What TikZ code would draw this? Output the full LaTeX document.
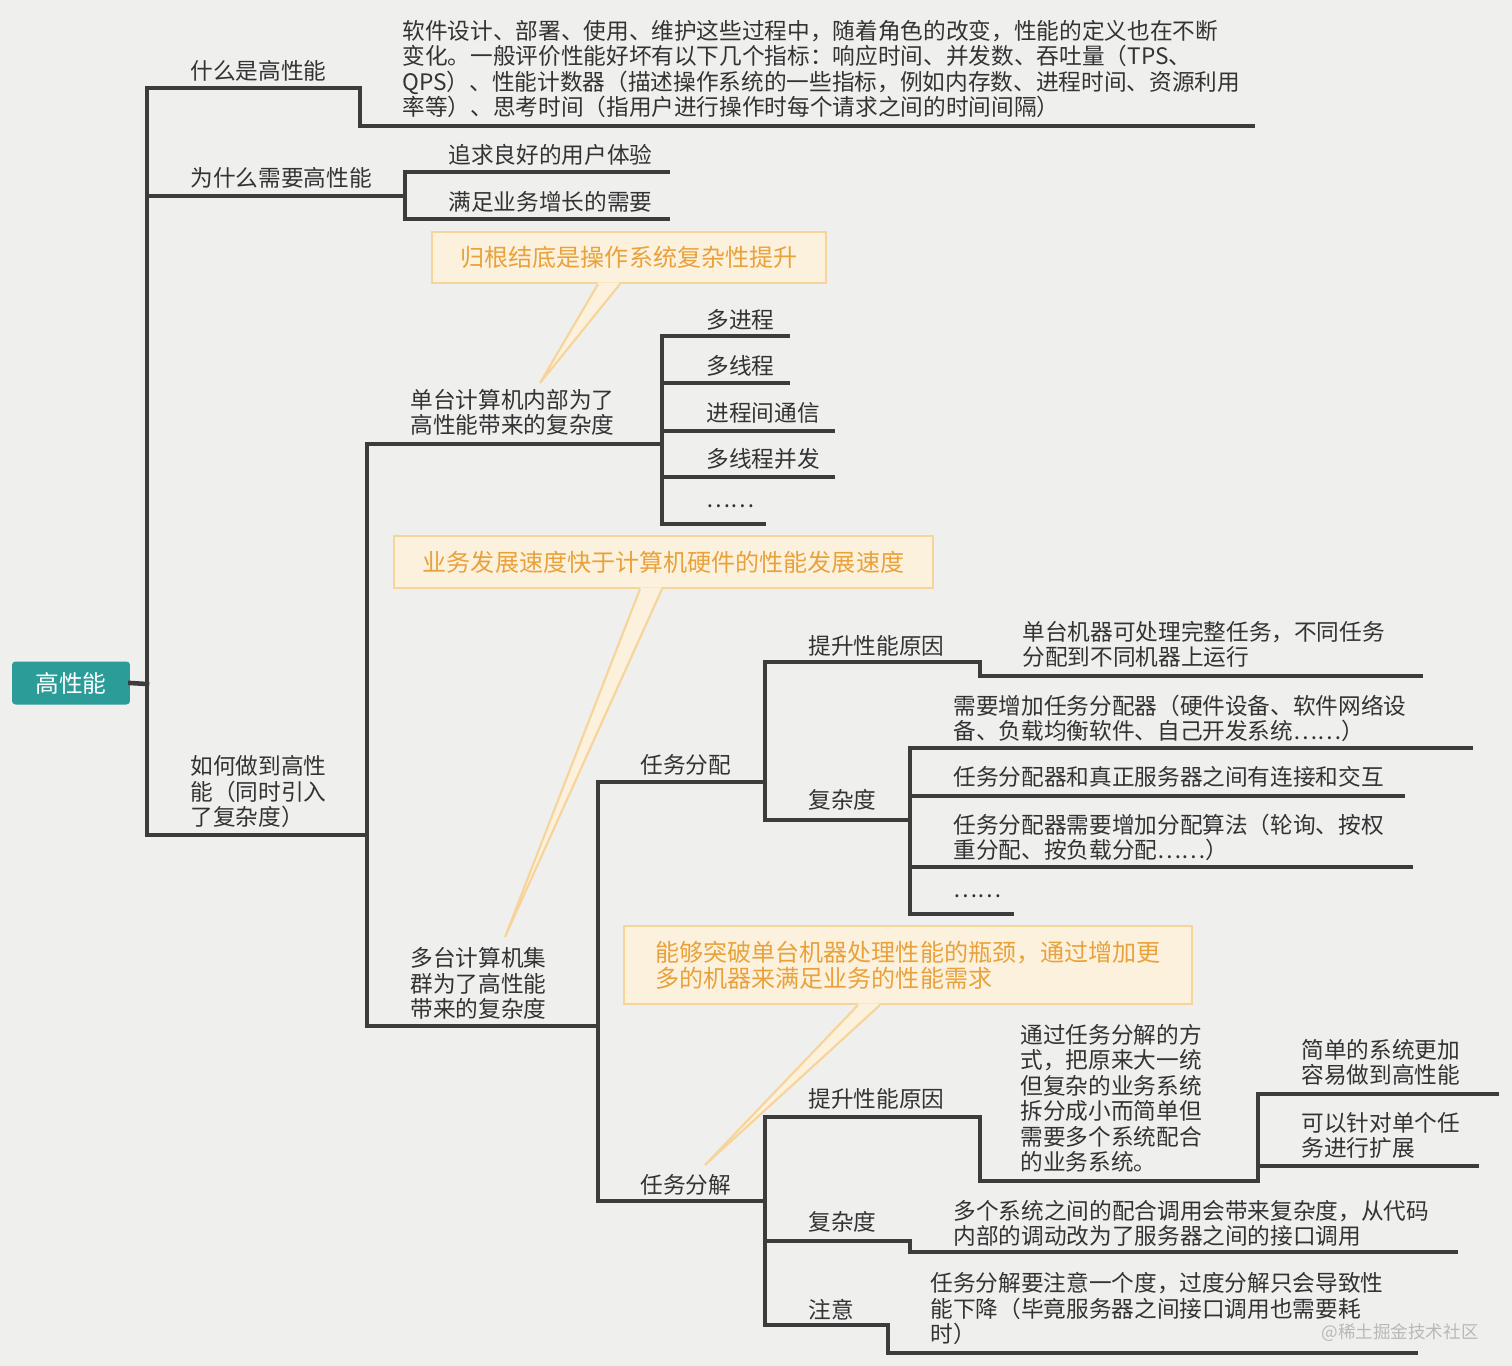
\documentclass[tikz,border=0pt]{standalone}
\usepackage{fontspec}
\setmainfont{Noto Sans CJK SC}
\usepackage{tikz}

\definecolor{paper}{HTML}{EFEFEE}
\definecolor{ink}{HTML}{333333}
\definecolor{branchgray}{HTML}{3C3C3C}
\definecolor{rootteal}{HTML}{2B9C98}
\definecolor{notefill}{HTML}{FCF1DC}
\definecolor{noteline}{HTML}{F6D49A}
\definecolor{notetext}{HTML}{E9A23B}

\begin{document}
\begin{tikzpicture}[x=0.02cm, y=-0.02cm,
    branch/.style={draw=branchgray, line width=2.6pt, line cap=rect},
    topic/.style={anchor=south west, inner sep=0pt, align=left, text=ink,
        font=\fontsize{12.9pt}{14.5pt}\selectfont},
    rootbox/.style={fill=rootteal, rounded corners=2pt, text=white,
        minimum width=2.36cm, minimum height=0.86cm,
        font=\fontsize{13.5pt}{15pt}\selectfont},
    callout/.style={draw=noteline, fill=notefill, line width=1.2pt, text=notetext,
        inner sep=0pt, align=left, font=\fontsize{13.7pt}{14.7pt}\selectfont},
    watermark/.style={inner sep=0pt, text=gray!55, font=\fontsize{10pt}{12pt}\selectfont}]

    % paper
    \fill[paper] (0,0) rectangle (1512,1366);
    \useasboundingbox (0,0) rectangle (1512,1366);

    % callouts with their tails
    \node[callout, minimum width=7.88cm, minimum height=1.02cm] (c1) at (629,257.5) {归根结底是操作系统复杂性提升};
    \node[callout, minimum width=10.78cm, minimum height=1.04cm] (c2) at (663.5,562) {业务发展速度快于计算机硬件的性能发展速度};
    \node[callout, minimum width=11.36cm, minimum height=1.56cm] (c3) at (908,965) {能够突破单台机器处理性能的瓶颈，通过增加更\\多的机器来满足业务的性能需求};
    \coordinate (tip1) at (540,383);
    \coordinate (tip2) at (505,937);
    \coordinate (tip3) at (705,1165);
    \fill[notefill] ([xshift=-0.62cm,yshift=1pt]c1.south) -- (tip1) -- ([xshift=-0.18cm,yshift=1pt]c1.south) -- cycle;
    \draw[noteline, line width=1.2pt] ([xshift=-0.62cm]c1.south) -- (tip1) -- ([xshift=-0.18cm]c1.south);
    \fill[notefill] ([xshift=-0.47cm,yshift=1pt]c2.south) -- (tip2) -- ([xshift=-0.03cm,yshift=1pt]c2.south) -- cycle;
    \draw[noteline, line width=1.2pt] ([xshift=-0.47cm]c2.south) -- (tip2) -- ([xshift=-0.03cm]c2.south);
    \fill[notefill] ([xshift=-1cm,yshift=1pt]c3.south) -- (tip3) -- ([xshift=-0.56cm,yshift=1pt]c3.south) -- cycle;
    \draw[noteline, line width=1.2pt] ([xshift=-1cm]c3.south) -- (tip3) -- ([xshift=-0.56cm]c3.south);

    % topics
    \node[rootbox] (root) at (71,683) {高性能};
    \node[topic] (what) at (190,82) {什么是高性能};
    \node[topic] (whatdef) at (402,118) {软件设计、部署、使用、维护这些过程中，随着角色的改变，性能的定义也在不断\\变化。一般评价性能好坏有以下几个指标：响应时间、并发数、吞吐量（TPS、\\QPS）、性能计数器（描述操作系统的一些指标，例如内存数、进程时间、资源利用\\率等）、思考时间（指用户进行操作时每个请求之间的时间间隔）};
    \node[topic] (why) at (190,189) {为什么需要高性能};
    \node[topic] (ux) at (448,166) {追求良好的用户体验};
    \node[topic] (biz) at (448,213) {满足业务增长的需要};
    \node[topic] (how) at (190,828) {如何做到高性\\能（同时引入\\了复杂度）};
    \node[topic] (single) at (410,436) {单台计算机内部为了\\高性能带来的复杂度};
    \node[topic] (proc) at (706,331) {多进程};
    \node[topic] (thread) at (706,377) {多线程};
    \node[topic] (ipc) at (706,424) {进程间通信};
    \node[topic] (conc) at (706,470) {多线程并发};
    \node[topic] (etc1) at (706,508) {……};
    \node[topic] (cluster) at (410,1020) {多台计算机集\\群为了高性能\\带来的复杂度};
    \node[topic] (assign) at (640,776) {任务分配};
    \node[topic] (reason1) at (808,657) {提升性能原因};
    \node[topic] (reason1txt) at (1022,668) {单台机器可处理完整任务，不同任务\\分配到不同机器上运行};
    \node[topic] (cplx1) at (808,811) {复杂度};
    \node[topic] (alloc) at (953,742) {需要增加任务分配器（硬件设备、软件网络设\\备、负载均衡软件、自己开发系统……）};
    \node[topic] (link) at (953,788) {任务分配器和真正服务器之间有连接和交互};
    \node[topic] (algo) at (953,861) {任务分配器需要增加分配算法（轮询、按权\\重分配、按负载分配……）};
    \node[topic] (etc2) at (953,898) {……};
    \node[topic] (split) at (640,1196) {任务分解};
    \node[topic] (reason2) at (808,1110) {提升性能原因};
    \node[topic] (reason2txt) at (1020,1173) {通过任务分解的方\\式，把原来大一统\\但复杂的业务系统\\拆分成小而简单但\\需要多个系统配合\\的业务系统。};
    \node[topic] (simple) at (1301,1086) {简单的系统更加\\容易做到高性能};
    \node[topic] (scale) at (1301,1159) {可以针对单个任\\务进行扩展};
    \node[topic] (cplx2) at (808,1233) {复杂度};
    \node[topic] (cplx2txt) at (953,1247) {多个系统之间的配合调用会带来复杂度，从代码\\内部的调动改为了服务器之间的接口调用};
    \node[topic] (note) at (808,1320) {注意};
    \node[topic] (notetxt) at (930,1345) {任务分解要注意一个度，过度分解只会导致性\\能下降（毕竟服务器之间接口调用也需要耗\\时）};

    % where each branch line ends, and knees of stepped lines
    \coordinate (main-s) at (147,684);
    \coordinate (what-k) at (360,88);
    \coordinate (what-e) at (1253,126);
    \coordinate (why-e) at (405,196);
    \coordinate (ux-e) at (668,172);
    \coordinate (biz-e) at (668,219);
    \coordinate (how-e) at (367,835);
    \coordinate (single-e) at (662,444);
    \coordinate (proc-e) at (788,336);
    \coordinate (thread-e) at (788,383);
    \coordinate (ipc-e) at (833,431);
    \coordinate (conc-e) at (833,477);
    \coordinate (etc1-e) at (764,524);
    \coordinate (cluster-e) at (598,1026);
    \coordinate (assign-e) at (765,782);
    \coordinate (reason1-k) at (980,662);
    \coordinate (reason1-e) at (1421,676);
    \coordinate (cplx1-e) at (910,820);
    \coordinate (alloc-e) at (1471,748);
    \coordinate (link-e) at (1403,796);
    \coordinate (algo-e) at (1411,867);
    \coordinate (etc2-e) at (1012,914);
    \coordinate (split-e) at (765,1201);
    \coordinate (reason2-k) at (980,1117);
    \coordinate (reason2-e) at (1258,1181);
    \coordinate (simple-e) at (1497,1094);
    \coordinate (scale-e) at (1477,1166);
    \coordinate (cplx2-k) at (910,1241);
    \coordinate (cplx2-e) at (1456,1252);
    \coordinate (note-k) at (888,1325);
    \coordinate (note-e) at (1416,1353);

    % first level
    \draw[branch] (root.east) -- (main-s);
    \draw[branch] (main-s |- what-k) -- (main-s |- how-e);
    \draw[branch] (main-s |- what-k) -- (what-k) |- (what-e);
    \draw[branch] (main-s |- why-e) -- (why-e);
    \draw[branch] (main-s |- how-e) -- (how-e);

    % why
    \draw[branch] (why-e |- ux-e) -- (why-e |- biz-e);
    \draw[branch] (why-e |- ux-e) -- (ux-e);
    \draw[branch] (why-e |- biz-e) -- (biz-e);

    % how
    \draw[branch] (how-e |- single-e) -- (how-e |- cluster-e);
    \draw[branch] (how-e |- single-e) -- (single-e);
    \draw[branch] (how-e |- cluster-e) -- (cluster-e);

    % single machine
    \draw[branch] (single-e |- proc-e) -- (single-e |- etc1-e);
    \foreach \leaf in {proc, thread, ipc, conc, etc1}
        \draw[branch] (single-e |- \leaf-e) -- (\leaf-e);

    % cluster
    \draw[branch] (cluster-e |- assign-e) -- (cluster-e |- split-e);
    \draw[branch] (cluster-e |- assign-e) -- (assign-e);
    \draw[branch] (cluster-e |- split-e) -- (split-e);

    % task assignment
    \draw[branch] (assign-e |- reason1-k) -- (assign-e |- cplx1-e);
    \draw[branch] (assign-e |- reason1-k) -- (reason1-k) |- (reason1-e);
    \draw[branch] (assign-e |- cplx1-e) -- (cplx1-e);
    \draw[branch] (cplx1-e |- alloc-e) -- (cplx1-e |- etc2-e);
    \foreach \leaf in {alloc, link, algo, etc2}
        \draw[branch] (cplx1-e |- \leaf-e) -- (\leaf-e);

    % task split
    \draw[branch] (split-e |- reason2-k) -- (split-e |- note-k);
    \draw[branch] (split-e |- reason2-k) -- (reason2-k) |- (reason2-e);
    \draw[branch] (reason2-e |- simple-e) -- (reason2-e);
    \draw[branch] (reason2-e |- simple-e) -- (simple-e);
    \draw[branch] (reason2-e |- scale-e) -- (scale-e);
    \draw[branch] (split-e |- cplx2-k) -- (cplx2-k) |- (cplx2-e);
    \draw[branch] (split-e |- note-k) -- (note-k) |- (note-e);

    \node[watermark] (wm) at (1400,1333) {@稀土掘金技术社区};
\end{tikzpicture}
\end{document}
